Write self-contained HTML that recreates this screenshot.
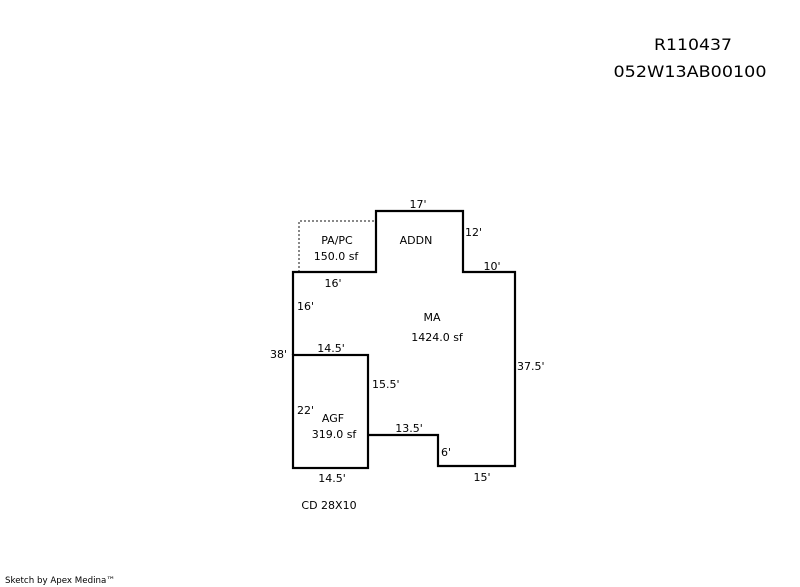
<!DOCTYPE html>
<html><head><meta charset="utf-8"><style>
html,body{margin:0;padding:0;background:#fff;width:800px;height:587px;overflow:hidden}
svg{display:block}
text{font-family:"DejaVu Sans","Liberation Sans",sans-serif;font-size:11px;fill:#000}
</style></head><body>
<svg width="800" height="587" viewBox="0 0 800 587" xmlns="http://www.w3.org/2000/svg">
<text x="693" y="50" text-anchor="middle" style="font-size:16px" textLength="78" lengthAdjust="spacingAndGlyphs">R110437</text>
<text x="690" y="77" text-anchor="middle" style="font-size:16px" textLength="153" lengthAdjust="spacingAndGlyphs">052W13AB00100</text>

<polyline points="299,272 299,221 376,221" fill="none" stroke="#888" stroke-width="2" stroke-dasharray="2,2"/>
<polyline points="293,355 293,272 376,272 376,211 463,211 463,272 515,272 515,466 438,466 438,435 368,435" fill="none" stroke="#000" stroke-width="2.2"/>
<rect x="293" y="355" width="75" height="113" fill="none" stroke="#000" stroke-width="2.2"/>

<text x="418" y="208" text-anchor="middle">17'</text>
<text x="465" y="236">12'</text>
<text x="492" y="270" text-anchor="middle">10'</text>
<text x="337" y="244" text-anchor="middle">PA/PC</text>
<text x="336" y="260" text-anchor="middle">150.0 sf</text>
<text x="416" y="244" text-anchor="middle">ADDN</text>
<text x="333" y="287" text-anchor="middle">16'</text>
<text x="297" y="310">16'</text>
<text x="432" y="321" text-anchor="middle">MA</text>
<text x="437" y="341" text-anchor="middle">1424.0 sf</text>
<text x="270" y="358">38'</text>
<text x="331" y="352" text-anchor="middle">14.5'</text>
<text x="372" y="388">15.5'</text>
<text x="517" y="370">37.5'</text>
<text x="297" y="414">22'</text>
<text x="333" y="422" text-anchor="middle">AGF</text>
<text x="334" y="438" text-anchor="middle">319.0 sf</text>
<text x="409" y="432" text-anchor="middle">13.5'</text>
<text x="441" y="456">6'</text>
<text x="482" y="481" text-anchor="middle">15'</text>
<text x="332" y="482" text-anchor="middle">14.5'</text>
<text x="329" y="509" text-anchor="middle">CD 28X10</text>
<text x="5" y="583" style="font-size:9px" textLength="110" lengthAdjust="spacingAndGlyphs">Sketch by Apex Medina™</text>
</svg>
</body></html>
